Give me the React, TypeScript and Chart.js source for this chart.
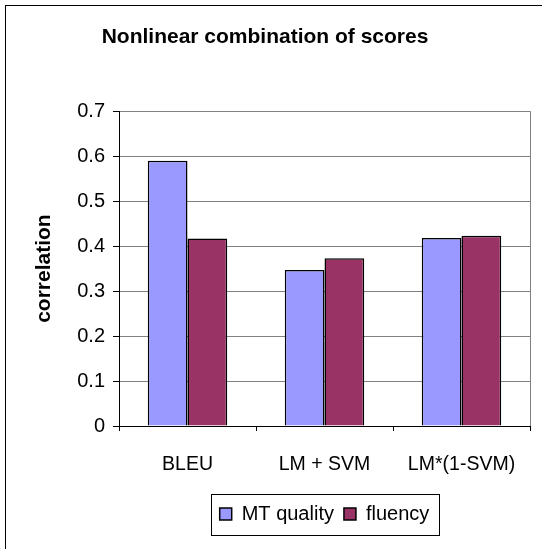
import React, { useEffect, useRef } from "react";
import { Chart, registerables } from "chart.js";

Chart.register(...registerables);

const categories = ["BLEU", "LM + SVM", "LM*(1-SVM)"];
const mtQuality = [0.59, 0.347, 0.418];
const fluency = [0.417, 0.373, 0.423];
const seriesNames = ["MT quality", "fluency"];
const yMin = 0;
const yMax = 0.7;
const yStep = 0.1;
const titleText = "Nonlinear combination of scores";
const yTitle = "correlation";

const FONT = "'Liberation Sans', Arial, sans-serif";

const framePlugin = {
  id: "framePlugin",
  afterLayout(chart: any) {
    const lg = chart.legend;
    if (lg) {
      lg.left = chart.chartArea.left;
      lg.right = chart.chartArea.right;
    }
  },
  beforeDatasetsDraw(chart: any) {
    const { ctx, chartArea } = chart;
    ctx.save();
    ctx.strokeStyle = "#808080";
    ctx.lineWidth = 1;
    ctx.beginPath();
    const r = Math.round(chartArea.right) + 0.5;
    ctx.moveTo(r, chartArea.top);
    ctx.lineTo(r, chartArea.bottom);
    ctx.stroke();
    ctx.restore();
  },
  afterDraw(chart: any) {
    const { ctx } = chart;
    ctx.save();
    ctx.strokeStyle = "#000";
    ctx.lineWidth = 1;
    ctx.strokeRect(5.5, 5.5, 700, 700);
    const boxes = chart.legend && chart.legend.legendHitBoxes;
    if (boxes && boxes.length) {
      let l = Infinity, r = -Infinity, t = Infinity, b = -Infinity;
      for (const h of boxes) {
        l = Math.min(l, h.left);
        r = Math.max(r, h.left + h.width);
        t = Math.min(t, h.top);
        b = Math.max(b, h.top + h.height);
      }
      ctx.strokeRect(Math.round(l - 9) + 0.5, Math.round(t - 10) + 0.5, Math.round(r - l + 18), Math.round(b - t + 21));
    }
    ctx.restore();
  },
};

export default function App() {
  const ref = useRef<HTMLCanvasElement>(null);
  useEffect(() => {
    const chart = new Chart(ref.current!, {
      type: "bar",
      data: {
        labels: categories,
        datasets: [
          {
            label: seriesNames[0],
            data: mtQuality,
            backgroundColor: "#9999FF",
            borderColor: "#000",
            borderWidth: 1.5,
            categoryPercentage: 0.58,
            barPercentage: 1,
          },
          {
            label: seriesNames[1],
            data: fluency,
            backgroundColor: "#993366",
            borderColor: "#000",
            borderWidth: 1.5,
            categoryPercentage: 0.58,
            barPercentage: 1,
          },
        ],
      },
      options: {
        animation: false,
        responsive: false,
        maintainAspectRatio: false,
        layout: { padding: { left: 0, right: 12, top: 0, bottom: 15 } },
        plugins: {
          title: {
            display: true,
            text: titleText,
            color: "#000",
            font: { family: FONT, size: 21, weight: "bold", lineHeight: 1.2 },
            padding: { top: 25, bottom: 61 },
          },
          legend: {
            display: true,
            position: "bottom",
            labels: {
              color: "#000",
              font: { family: FONT, size: 20 },
              boxWidth: 12,
              boxHeight: 12,
              padding: 10,
            },
          },
          tooltip: { enabled: false },
        },
        scales: {
          x: {
            afterFit: (s: any) => {
              s.height = 68;
            },
            grid: {
              display: true,
              drawOnChartArea: false,
              offset: true,
              tickLength: 5,
              color: "#000",
              tickColor: "#000",
            },
            border: { display: true, color: "#000", width: 1 },
            ticks: {
              color: "#000",
              font: { family: FONT, size: 19.5 },
              padding: 22,
              maxRotation: 0,
              autoSkip: false,
            },
          },
          y: {
            min: yMin,
            max: yMax,
            afterFit: (s: any) => {
              s.width = 119;
            },
            grid: {
              color: "#808080",
              tickColor: "#000",
              tickLength: 6,
              lineWidth: 1,
            },
            border: { display: true, color: "#000", width: 1 },
            ticks: {
              stepSize: yStep,
              color: "#000",
              font: { family: FONT, size: 20 },
              padding: 8,
              callback: (v: any) => String(Math.round(Number(v) * 10) / 10),
            },
            title: {
              display: true,
              text: yTitle,
              color: "#000",
              font: { family: FONT, size: 21, weight: "bold", lineHeight: 1.2 },
              padding: { top: 32, bottom: 0 },
            },
          },
        },
      },
      plugins: [framePlugin],
    });
    return () => chart.destroy();
  }, []);
  return (
    <div style={{ position: "absolute", left: 0, top: 0, width: 542, height: 549, background: "#fff" }}>
      <canvas ref={ref} width={542} height={549} style={{ display: "block" }} />
    </div>
  );
}
